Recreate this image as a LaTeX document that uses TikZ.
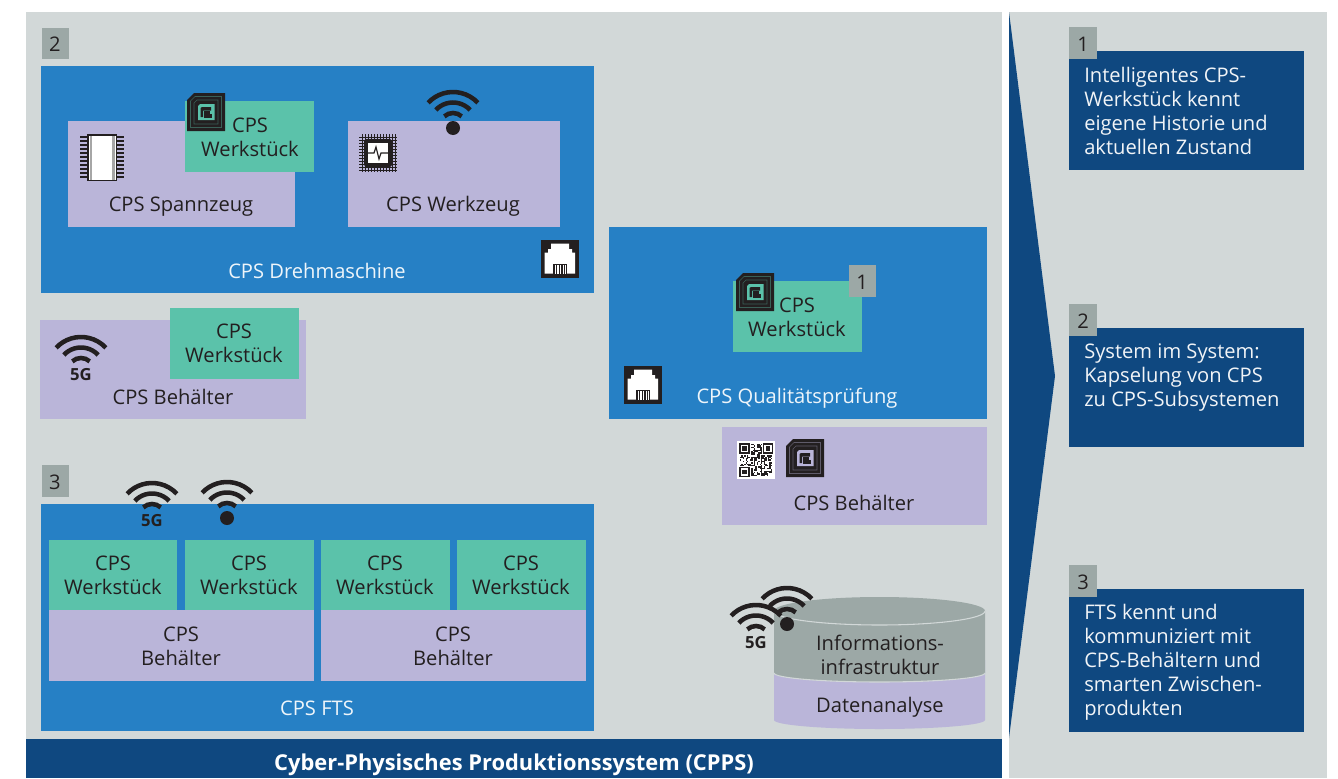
\documentclass[tikz,border=0pt]{standalone}
\usepackage{fontspec}
\setmainfont{Open Sans}
\definecolor{panel}{HTML}{D2D8D8}
\definecolor{cpsblue}{HTML}{2680C5}
\definecolor{lilac}{HTML}{BAB5D9}
\definecolor{teal}{HTML}{5BC2AA}
\definecolor{navy}{HTML}{0F4880}
\definecolor{badgegray}{HTML}{9CA8A6}
\definecolor{ink}{HTML}{231F20}
\newcommand{\bx}[6]{\path[fill=#2] (#3,#4) rectangle (#5,#6) coordinate[midway] (#1);}
\tikzset{
  txt/.style={font=\fontsize{15.1}{18}\selectfont,text=ink,align=center,inner sep=0pt,yshift=-0.8pt},
  wtxt/.style={font=\fontsize{15.1}{18}\selectfont,text=white!92!cpsblue,align=center,inner sep=0pt,yshift=-0.8pt},
  ltxt/.style={font=\fontsize{15.1}{18}\selectfont,text=white!94!navy,align=left,anchor=west,inner sep=0pt,yshift=-1pt},
  arcline/.style={line width=3.4pt,draw=ink},
  pics/wifiarcs/.style={code={
    \draw[arcline] (223:34) arc[start angle=223,end angle=317,radius=34];
    \draw[arcline] (223:23.5) arc[start angle=223,end angle=317,radius=23.5];
    \draw[arcline] (228:13) arc[start angle=228,end angle=312,radius=13];
  }},
  pics/wifi/.style={code={
    \pic at (0,-2) {wifiarcs};
    \fill[ink] (0,0) circle[radius=7];
  }},
  pics/wififive/.style={code={
    \pic at (0,0) {wifiarcs};
    \node[font=\fontsize{12.5}{14}\bfseries\selectfont,text=ink,inner sep=0pt] at (0,3.5) {5G};
  }},
  pics/rfid/.style={code={
    \fill[ink] (7,0) -- (38,0) -- (38,38) -- (0,38) -- (0,7) -- cycle;
    \draw[#1!40!ink,line width=.4pt] (8,3.5) -- (34.5,3.5) -- (34.5,34.5) -- (3.5,34.5) -- (3.5,8) -- cycle;
    \draw[#1!40!ink,line width=.4pt] (10,7) -- (31,7) -- (31,31) -- (7,31) -- (7,10) -- cycle;
    \fill[#1] (13,11) -- (27.5,11) -- (27.5,27) -- (11,27) -- (11,13) -- cycle;
    \fill[ink] (15,14) -- (24,14) -- (24,17.5) -- (16,17.5) -- (16,24) -- (13.5,24) -- (13.5,15) -- cycle;
    \fill[ink] (17,18) rectangle (25,25);
    \fill[#1] (23,18) rectangle (26,21);
  }},
  pics/rjport/.style={code={
    \fill[ink] (0,0) rectangle (38,38);
    \fill[white] (10,3.5) -- (28,3.5) -- (28,9) -- (31,9) -- (31,12.5) -- (34,12.5) -- (34,33.5) -- (3.5,33.5) -- (3.5,12.5) -- (7,12.5) -- (7,9) -- (10,9) -- cycle;
    \fill[ink] (12,24) rectangle (26,33.5);
    \foreach \xx in {13.8,16.4,19,21.6,24.2} \fill[white] (\xx,25) rectangle ++(1.1,8.5);
  }},
  pics/chipicon/.style={code={
    \foreach \yy in {3,7,...,43} {\draw[ink,line width=.8pt] (0,\yy) -- (44,\yy);}
    \fill[ink] (7,0) rectangle (37,47);
    \fill[white] (8.5,1.5) rectangle (35.5,45.5);
    \fill[gray!70] (9.5,1.5) rectangle (12,45.5);
    \fill[gray!70] (32,1.5) rectangle (34.5,45.5);
  }},
  pics/cpuicon/.style={code={
    \foreach \vv in {3,6,...,36} {
      \draw[ink,line width=.7pt] (0,\vv) -- (38,\vv);
      \draw[ink,line width=.7pt] (\vv,0) -- (\vv,38);
    }
    \fill[ink] (7,5) -- (31,5) -- (33,7) -- (33,31) -- (31,33) -- (7,33) -- (5,31) -- (5,7) -- cycle;
    \fill[white] (9,9) rectangle (29,29);
    \draw[ink,line width=.9pt] (9,19) -- (15,19) -- (17,13) -- (20,25) -- (22,19) -- (29,19);
  }},
  pics/qrcode/.style={code={
    \fill[white] (0,0) rectangle (38,38);
    \pgfmathsetseed{1338}
    \foreach \ix in {1,...,23} \foreach \iy in {1,...,23} {
      \pgfmathparse{int(rnd*2)}
      \ifnum\pgfmathresult=1
        \fill[ink] ({\ix*1.4+1.6},{\iy*1.4+1.6}) rectangle ++(1.4,1.4);
      \fi
    }
    \foreach \ox/\oy in {2/2,25.5/2,2/25.5} {
      \fill[white] (\ox-1,\oy-1) rectangle ++(12.5,12.5);
      \fill[ink] (\ox,\oy) rectangle ++(10.5,10.5);
      \fill[white] (\ox+1.5,\oy+1.5) rectangle ++(7.5,7.5);
      \fill[ink] (\ox+3,\oy+3) rectangle ++(4.5,4.5);
    }
  }},
}
\begin{document}
\begin{tikzpicture}[x=0.75pt,y=-0.75pt]
\useasboundingbox (0,0) rectangle (1338,778);
\fill[white] (0,0) rectangle (1338,778);
% panels
\bx{leftpanel}{panel}{26}{12}{1002}{778}
\bx{rightpanel}{panel}{1009}{12}{1327}{778}
\fill[navy] (1009,12) -- (1055,376) -- (1009,738) -- cycle;
\bx{bar}{navy}{26}{739}{1002}{778}
\node[font=\fontsize{16.4}{18}\bfseries\selectfont,text=white,inner sep=0pt] (bartext) at (514,764.5) {Cyber-Physisches Produktionssystem (CPPS)};
% Drehmaschine
\bx{dreh}{cpsblue}{41}{66}{594}{293}
\node[wtxt] (drehtext) at (317,270) {CPS Drehmaschine};
\bx{spann}{lilac}{68}{121}{295}{227}
\node[txt] (spanntext) at (181,205.5) {CPS Spannzeug};
\bx{wst1}{teal}{185}{101}{314}{172}
\node[txt] (wst1text) at (250,136.5) {CPS\\Werkstück};
\pic at (187,93) {rfid=teal};
\pic at (80,134) {chipicon};
\bx{zeug}{lilac}{348}{121}{560}{227}
\node[txt] (zeugtext) at (453,205.5) {CPS Werkzeug};
\pic at (453,128) {wifi};
\pic at (359,134) {cpuicon};
\pic at (541,240) {rjport};
\bx{badgeA}{badgegray}{42}{28}{69}{59}
\node[txt] (badgeAtext) at (55,43) {2};
% Behaelter links
\bx{beh1}{lilac}{40}{320}{306}{419}
\node[txt] (beh1text) at (173,396) {CPS Behälter};
\bx{wst2}{teal}{170}{308}{299}{379}
\node[txt] (wst2text) at (234,342.5) {CPS\\Werkstück};
\pic at (81,371) {wififive};
% FTS
\bx{badgeB}{badgegray}{42}{465}{69}{497}
\node[txt] (badgeBtext) at (55,481) {3};
\bx{fts}{cpsblue}{41}{504}{594}{731}
\node[wtxt] (ftstext) at (317,707.5) {CPS FTS};
\pic at (152,517) {wififive};
\pic at (227,518) {wifi};
\bx{wst3}{teal}{49}{540}{177}{610}
\node[txt] (wst3text) at (113,574.5) {CPS\\Werkstück};
\bx{wst4}{teal}{185}{540}{314}{610}
\node[txt] (wst4text) at (249,574.5) {CPS\\Werkstück};
\bx{wst5}{teal}{321}{540}{450}{610}
\node[txt] (wst5text) at (385,574.5) {CPS\\Werkstück};
\bx{wst6}{teal}{457}{540}{586}{610}
\node[txt] (wst6text) at (521,574.5) {CPS\\Werkstück};
\bx{beh2}{lilac}{49}{610}{314}{681}
\node[txt] (beh2text) at (181,645.5) {CPS\\Behälter};
\bx{beh3}{lilac}{321}{610}{586}{681}
\node[txt] (beh3text) at (453,645.5) {CPS\\Behälter};
% Qualitaet
\bx{qual}{cpsblue}{609}{227}{987}{419}
\node[wtxt] (qualtext) at (797,397.5) {CPS Qualitätsprüfung};
\bx{wst7}{teal}{733}{281}{862}{352}
\node[txt] (wst7text) at (797,316.5) {CPS\\Werkstück};
\pic at (736,273) {rfid=teal};
\bx{badgeC}{badgegray}{849}{265}{876}{297}
\node[txt] (badgeCtext) at (862,281) {1};
\pic at (624,366) {rjport};
\bx{beh4}{lilac}{722}{427}{987}{525}
\node[txt] (beh4text) at (854,501.5) {CPS Behälter};
\pic at (737,441) {qrcode};
\pic at (786,439) {rfid=lilac};
% Zylinder
\fill[lilac] (774,660) -- (774,720) arc[start angle=180,end angle=0,x radius=105.5,y radius=9] -- (985,660) -- cycle;
\fill[badgegray] (774,611) -- (774,673) arc[start angle=180,end angle=0,x radius=105.5,y radius=9] -- (985,611) arc[start angle=0,end angle=-180,x radius=105.5,y radius=14] -- cycle;
\draw[panel,line width=.8pt] (774,611) arc[start angle=180,end angle=0,x radius=105.5,y radius=14];
\draw[panel,line width=.8pt] (774,673) arc[start angle=180,end angle=0,x radius=105.5,y radius=9];
\node[txt] (infratext) at (880,654) {Informations-\\infrastruktur};
\node[txt] (datatext) at (880,706) {Datenanalyse};
\pic at (756,639) {wififive};
\pic at (787,624) {wifi};
% rechts
\bx{r1}{navy}{1069}{51}{1304}{170}
\node[ltxt] (r1text) at (1084,110) {Intelligentes CPS-\\Werkstück kennt\\eigene Historie und\\aktuellen Zustand};
\bx{r1b}{badgegray}{1069}{27}{1097}{59}
\node[txt] (r1btext) at (1083,43) {1};
\bx{r2}{navy}{1069}{328}{1304}{447}
\node[ltxt] (r2text) at (1084,376) {System im System:\\Kapselung von CPS\\zu CPS-Subsystemen};
\bx{r2b}{badgegray}{1069}{304}{1097}{336}
\node[txt] (r2btext) at (1083,320) {2};
\bx{r3}{navy}{1069}{589}{1304}{732}
\node[ltxt] (r3text) at (1084,661) {FTS kennt und\\kommuniziert mit\\CPS-Behältern und\\smarten Zwischen-\\produkten};
\bx{r3b}{badgegray}{1069}{565}{1097}{597}
\node[txt] (r3btext) at (1083,581) {3};
\end{tikzpicture}
\end{document}
